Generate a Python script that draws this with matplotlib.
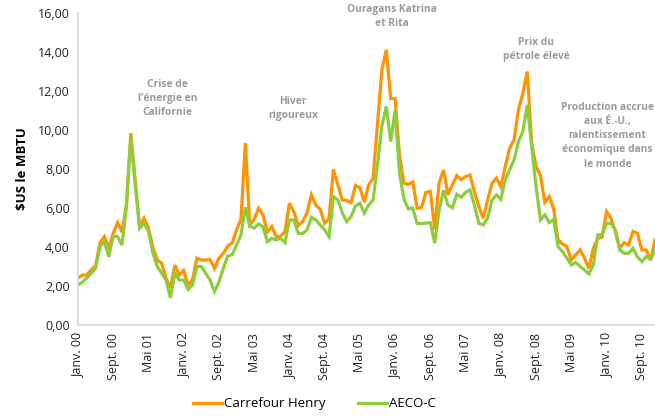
import matplotlib.pyplot as plt
import numpy as np

# Monthly prices, Jan 2000 - Dec 2010 ($US / MBTU)
henry = [2.40, 2.56, 2.56, 2.82, 3.04, 4.20, 4.53, 3.95, 4.70, 5.24, 4.75, 6.15,
         9.83, 7.40, 5.00, 5.47, 4.97, 4.00, 3.33, 3.16, 2.40, 1.90, 3.07, 2.56,
         2.79, 2.05, 2.30, 3.42, 3.33, 3.33, 3.35, 2.90, 3.42, 3.67, 4.05, 4.19,
         4.87, 5.41, 9.32, 5.13, 5.41, 5.98, 5.64, 4.75, 5.04, 4.53, 4.55, 4.78,
         6.24, 5.81, 5.08, 5.30, 5.73, 6.67, 6.15, 5.93, 5.21, 5.47, 7.98, 7.18,
         6.41, 6.38, 6.27, 7.15, 7.03, 6.30, 7.18, 7.52, 10.30, 13.08, 14.10, 11.60,
         11.60, 8.70, 7.27, 7.20, 7.33, 5.98, 6.02, 6.80, 6.84, 4.90, 7.30, 7.95,
         6.67, 7.18, 7.65, 7.44, 7.60, 7.69, 6.84, 6.07, 5.47, 6.41, 7.26, 7.52,
         7.09, 8.12, 9.06, 9.49, 11.03, 11.88, 12.99, 9.32, 8.12, 7.65, 6.28, 6.58,
         5.95, 4.36, 4.15, 4.02, 3.33, 3.59, 3.85, 3.42, 2.90, 3.93, 4.44, 4.50,
         5.81, 5.47, 4.79, 3.93, 4.22, 4.10, 4.79, 4.70, 3.85, 3.85, 3.33, 4.36]

aeco = [2.05, 2.20, 2.40, 2.65, 2.90, 4.00, 4.27, 3.50, 4.53, 4.53, 4.10, 6.07,
        9.60, 7.20, 4.95, 5.20, 4.80, 3.70, 3.00, 2.65, 2.30, 1.38, 2.65, 2.30,
        2.30, 1.83, 2.05, 3.00, 3.00, 2.65, 2.30, 1.71, 2.20, 2.90, 3.54, 3.60,
        4.10, 4.60, 6.03, 5.08, 4.96, 5.18, 5.04, 4.27, 4.44, 4.36, 4.44, 4.22,
        5.38, 5.38, 4.70, 4.68, 4.87, 5.52, 5.38, 5.13, 4.87, 4.53, 6.58, 6.41,
        5.76, 5.30, 5.56, 6.10, 6.24, 5.73, 6.15, 6.41, 8.20, 10.20, 11.20, 9.40,
        11.00, 7.78, 6.45, 5.95, 6.00, 5.20, 5.20, 5.22, 5.25, 4.19, 5.90, 6.90,
        6.15, 6.00, 6.70, 6.55, 6.80, 6.92, 6.15, 5.21, 5.13, 5.47, 6.41, 6.67,
        6.44, 7.44, 7.95, 8.46, 9.40, 9.91, 11.28, 9.15, 7.09, 5.38, 5.64, 5.25,
        5.40, 4.02, 3.76, 3.42, 3.08, 3.20, 3.00, 2.82, 2.62, 3.08, 4.62, 4.62,
        5.21, 5.21, 4.87, 3.85, 3.67, 3.67, 3.93, 3.50, 3.25, 3.50, 3.37, 3.85]

tick_months = list(range(0, 132, 8))
tick_labels = []
for m in tick_months:
    name = {0: 'Janv.', 4: 'Mai', 8: 'Sept.'}[m % 12]
    tick_labels.append('%s %02d' % (name, m // 12))

notes = [
    ('Crise de\nl\u2019énergie en\nCalifornie', 20.4, 11.6),
    ('Hiver\nrigoureux', 48.8, 11.1),
    ('Ouragans Katrina\net Rita', 71.3, 15.8),
    ('Prix du\npétrole élevé', 104.0, 14.1),
    ('Production accrue\naux É.-U.,\nralentissement\néconomique dans\nle monde', 120.2, 9.7),
]

plt.rcParams['font.family'] = ['Open Sans', 'DejaVu Sans']

fig = plt.figure(figsize=(6.55, 4.18), dpi=100)
ax = fig.add_axes([0.119, 0.2225, 0.881, 0.747])

x = np.arange(len(henry))
ax.plot(x, henry, color='#ff9400', lw=2.3, label='Carrefour Henry', solid_joinstyle='miter')
ax.plot(x, aeco, color='#8ccd3e', lw=2.3, label='AECO-C', solid_joinstyle='miter')

ax.set_xlim(0, 131)
ax.set_ylim(0, 16)
ax.set_yticks(np.arange(0, 17, 2))
ax.set_yticklabels(['%d,00' % v for v in range(0, 17, 2)], fontsize=9, color='#222222')
ax.set_xticks(tick_months)
ax.set_xticklabels(tick_labels, rotation=90, fontsize=9, color='#222222')
ax.tick_params(length=0, pad=6)

for s in ['top', 'right']:
    ax.spines[s].set_visible(False)
for s in ['left', 'bottom']:
    ax.spines[s].set_color('#d5d5d5')
    ax.spines[s].set_linewidth(1.2)

ax.set_ylabel('$US le MBTU', fontsize=9.5, fontweight='bold', labelpad=6)

# grey event annotations
for txt, tx, ty in notes:
    ax.text(tx, ty, txt, ha='center', va='center', fontsize=7.4, fontweight='bold',
            color='#9a9a9a', linespacing=1.4)

fig.legend(loc='lower center', bbox_to_anchor=(0.48, -0.01), ncol=2, frameon=False,
           fontsize=9.5, handlelength=2.2, handletextpad=0.1, columnspacing=2.5)

fig.savefig('out.png', dpi=100)
